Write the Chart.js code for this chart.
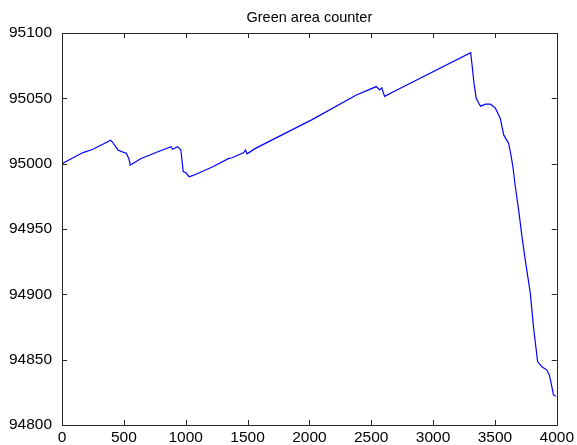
<!DOCTYPE html>
<html>
<head>
<meta charset="utf-8">
<title>Green area counter</title>
<script src="https://cdn.jsdelivr.net/npm/chart.js@4/dist/chart.umd.min.js"></script>
<style>
  html, body { margin: 0; padding: 0; background: #ffffff; }
  #wrap { width: 577px; height: 445px; }
</style>
</head>
<body>
<div id="wrap"><canvas id="c" width="577" height="445"></canvas></div>
<script>
const chartTitle = 'Green area counter';
// Sample index along the run
const steps = [
  0, 60, 170, 250, 394, 412, 452, 488, 520, 540, 552, 640, 760, 881, 894, 934,
  961, 980, 1002, 1028, 1060, 1215, 1349, 1376, 1470, 1483, 1497, 1560, 2018,
  2380, 2541, 2568, 2585, 2608, 2700, 3304, 3317, 3331, 3349, 3371, 3384, 3424,
  3464, 3504, 3544, 3571, 3611, 3631, 3647, 3665, 3692, 3719, 3745, 3786, 3812,
  3845, 3880, 3920, 3941, 3960, 3973, 3994, 4000
];
// Green area counter value at each sample
const counts = [
  95000, 95003, 95008.5, 95011, 95018, 95016, 95010.5, 95009, 95008, 95004, 94999,
  95004, 95008.5, 95013, 95011, 95013, 95010.5, 94994, 94993, 94990, 94991,
  94997.5, 95004, 95004.5, 95008.5, 95010.5, 95007.5, 95011.5, 95033.5, 95052.5,
  95059, 95056.5, 95058, 95051.5, 95056, 95085, 95074, 95061.5, 95050, 95046,
  95044, 95045.5, 95045.5, 95042.5, 95034.5, 95022, 95015.5, 95006, 94996.5,
  94982.5, 94964.5, 94944, 94926.5, 94901, 94875, 94848.5, 94844.5, 94842,
  94838, 94829.5, 94823, 94822, 94822
];
// Axis tick values
const xTicks = [0, 500, 1000, 1500, 2000, 2500, 3000, 3500, 4000];
const yTicks = [94800, 94850, 94900, 94950, 95000, 95050, 95100];

const points = steps.map((s, i) => ({ x: s, y: counts[i] }));

// Box around the plot with inward tick marks on all four sides,
// plus the title centred over the plot box
const framePlugin = {
  id: 'frame',
  afterDraw(chart) {
    const { ctx, chartArea: a, scales } = chart;
    const len = 5;
    ctx.save();
    ctx.strokeStyle = '#262626';
    ctx.lineWidth = 1;
    ctx.beginPath();
    ctx.rect(Math.round(a.left) + 0.5, Math.round(a.top) + 0.5,
             Math.round(a.right - a.left), Math.round(a.bottom - a.top));
    for (const v of xTicks) {
      const px = Math.round(scales.x.getPixelForValue(v)) + 0.5;
      ctx.moveTo(px, a.bottom); ctx.lineTo(px, a.bottom - len);
      ctx.moveTo(px, a.top); ctx.lineTo(px, a.top + len);
    }
    for (const v of yTicks) {
      const py = Math.round(scales.y.getPixelForValue(v)) + 0.5;
      ctx.moveTo(a.left, py); ctx.lineTo(a.left + len, py);
      ctx.moveTo(a.right, py); ctx.lineTo(a.right - len, py);
    }
    ctx.stroke();

    ctx.fillStyle = '#000000';
    ctx.font = '14.5px "Liberation Sans", Arial, sans-serif';
    ctx.textAlign = 'center';
    ctx.textBaseline = 'middle';
    ctx.fillText(chartTitle, (a.left + a.right) / 2, 18);
    ctx.restore();
  }
};

const tickFont = { family: '"Liberation Sans", Arial, sans-serif', size: 15.5 };

new Chart(document.getElementById('c'), {
  type: 'scatter',
  data: {
    datasets: [{
      data: points,
      showLine: true,
      borderColor: '#0000ff',
      borderWidth: 1.2,
      pointRadius: 0,
      pointHoverRadius: 0,
      fill: false,
      tension: 0
    }]
  },
  options: {
    responsive: false,
    animation: false,
    events: [],
    layout: { autoPadding: false, padding: { left: 0, right: 17, top: 33, bottom: 0 } },
    plugins: {
      legend: { display: false },
      tooltip: { enabled: false },
      title: { display: false }
    },
    scales: {
      x: {
        type: 'linear',
        min: 0,
        max: 4000,
        afterBuildTicks(scale) { scale.ticks = xTicks.map(v => ({ value: v })); },
        afterFit(scale) { scale.height = 20; },
        grid: { display: false, drawTicks: false },
        border: { display: false },
        ticks: {
          color: '#000000',
          font: tickFont,
          padding: 3,
          maxRotation: 0,
          autoSkip: false,
          callback: v => String(v)
        }
      },
      y: {
        type: 'linear',
        min: 94800,
        max: 95100,
        afterBuildTicks(scale) { scale.ticks = yTicks.map(v => ({ value: v })); },
        afterFit(scale) { scale.width = 62; },
        grid: { display: false, drawTicks: false },
        border: { display: false },
        ticks: {
          color: '#000000',
          font: tickFont,
          padding: 10,
          autoSkip: false,
          callback: v => String(v)
        }
      }
    }
  },
  plugins: [framePlugin]
});
</script>
</body>
</html>
